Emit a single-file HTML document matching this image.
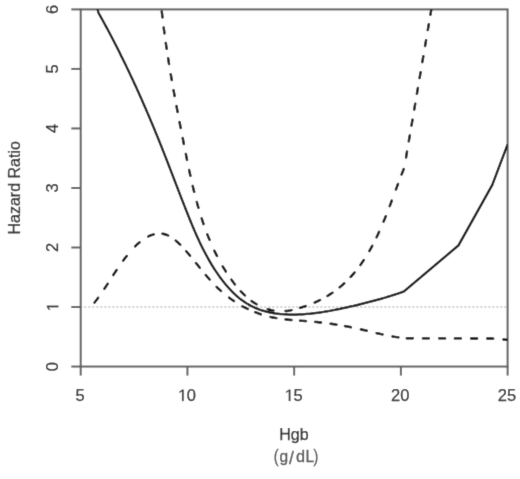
<!DOCTYPE html>
<html><head><meta charset="utf-8"><style>
html,body{margin:0;padding:0;background:#fff;}
body{width:520px;height:479px;overflow:hidden;}
svg{display:block;}
text{font-family:"Liberation Sans",sans-serif;}
</style></head><body>
<svg width="520" height="479" viewBox="0 0 520 479">
<defs><clipPath id="c"><rect x="80.7" y="9.4" width="426.90000000000003" height="357.15000000000003"/></clipPath><filter id="bl" x="0" y="0" width="520" height="479" filterUnits="userSpaceOnUse"><feConvolveMatrix order="3" kernelMatrix="0.01134 0.08382 0.01134 0.08382 0.61935 0.08382 0.01134 0.08382 0.01134" divisor="1" edgeMode="duplicate" preserveAlpha="false"/></filter></defs>
<g filter="url(#bl)">
<rect width="520" height="479" fill="#fff"/>
<line x1="80.70" y1="307.02" x2="507.60" y2="307.02" stroke="#c4c4c4" stroke-width="1.6" stroke-dasharray="2 2" stroke-dashoffset="0.4"/>
<g stroke="#606060" stroke-width="2" fill="none">
<rect x="80.70" y="9.40" width="426.90" height="357.15"/>
<line x1="80.70" y1="366.55" x2="80.70" y2="375.6"/><line x1="187.43" y1="366.55" x2="187.43" y2="375.6"/><line x1="294.15" y1="366.55" x2="294.15" y2="375.6"/><line x1="400.88" y1="366.55" x2="400.88" y2="375.6"/><line x1="507.60" y1="366.55" x2="507.60" y2="375.6"/><line x1="71.3" y1="366.55" x2="80.70" y2="366.55"/><line x1="71.3" y1="307.02" x2="80.70" y2="307.02"/><line x1="71.3" y1="247.50" x2="80.70" y2="247.50"/><line x1="71.3" y1="187.97" x2="80.70" y2="187.97"/><line x1="71.3" y1="128.45" x2="80.70" y2="128.45"/><line x1="71.3" y1="68.92" x2="80.70" y2="68.92"/><line x1="71.3" y1="9.40" x2="80.70" y2="9.40"/>
</g>
<g clip-path="url(#c)" fill="none" stroke="#000" stroke-width="2.4" stroke-linejoin="round">
<path d="M89.50,-10.00 L97.80,10.00 L98.31,12.54 L99.26,14.23 L100.20,15.92 L101.15,17.61 L102.09,19.31 L103.03,21.01 L103.96,22.72 L104.90,24.43 L105.83,26.14 L106.76,27.86 L107.68,29.59 L108.60,31.32 L109.52,33.05 L110.44,34.78 L111.36,36.52 L112.27,38.27 L113.18,40.02 L114.08,41.77 L114.98,43.52 L115.89,45.28 L116.78,47.04 L117.68,48.81 L118.57,50.58 L119.46,52.35 L120.35,54.13 L121.23,55.90 L122.11,57.69 L122.99,59.47 L123.86,61.26 L124.74,63.05 L125.61,64.84 L126.47,66.64 L127.34,68.44 L128.20,70.24 L129.06,72.05 L129.91,73.86 L130.77,75.67 L131.62,77.48 L132.46,79.30 L133.31,81.11 L134.15,82.93 L134.99,84.75 L135.83,86.58 L136.66,88.41 L137.49,90.23 L138.32,92.06 L139.14,93.90 L139.96,95.73 L140.78,97.57 L141.60,99.41 L142.41,101.25 L143.22,103.09 L144.03,104.93 L144.84,106.77 L145.64,108.62 L146.44,110.47 L147.23,112.32 L148.03,114.16 L148.82,116.02 L149.61,117.87 L150.39,119.72 L151.17,121.58 L151.95,123.43 L152.73,125.29 L153.50,127.14 L154.27,129.00 L155.04,130.86 L155.80,132.72 L156.57,134.58 L157.32,136.44 L158.08,138.30 L158.83,140.16 L159.58,142.02 L160.33,143.88 L161.08,145.75 L161.82,147.61 L162.56,149.47 L163.29,151.33 L164.03,153.20 L164.76,155.06 L165.49,156.92 L166.21,158.78 L166.94,160.64 L167.66,162.50 L168.38,164.37 L169.10,166.23 L169.82,168.09 L170.54,169.95 L171.26,171.80 L171.97,173.66 L172.69,175.52 L173.40,177.38 L174.11,179.23 L174.83,181.09 L175.54,182.94 L176.25,184.79 L176.96,186.64 L177.68,188.50 L178.39,190.34 L179.10,192.19 L179.81,194.04 L180.53,195.88 L181.24,197.73 L181.96,199.57 L182.67,201.41 L183.39,203.25 L184.11,205.09 L184.83,206.92 L185.55,208.75 L186.28,210.59 L187.00,212.42 L187.73,214.24 L188.46,216.07 L189.19,217.89 L189.93,219.71 L190.67,221.53 L191.41,223.35 L192.17,225.16 L192.93,226.97 L193.69,228.78 L194.46,230.59 L195.25,232.39 L196.04,234.19 L196.84,235.99 L197.65,237.79 L198.47,239.58 L199.30,241.37 L200.15,243.15 L201.01,244.94 L201.88,246.72 L202.76,248.50 L203.66,250.27 L204.58,252.04 L205.51,253.81 L206.46,255.57 L207.43,257.33 L208.41,259.09 L209.42,260.84 L210.44,262.59 L211.48,264.34 L212.55,266.08 L213.63,267.81 L214.74,269.54 L215.86,271.26 L217.01,272.97 L218.18,274.66 L219.37,276.34 L220.58,278.01 L221.81,279.65 L223.07,281.28 L224.35,282.88 L225.65,284.46 L226.97,286.02 L228.31,287.55 L229.68,289.05 L231.07,290.51 L232.48,291.95 L233.91,293.35 L235.37,294.71 L236.85,296.04 L238.35,297.33 L239.88,298.57 L241.43,299.77 L243.00,300.93 L244.60,302.04 L246.22,303.09 L247.87,304.10 L249.54,305.06 L251.23,305.96 L252.95,306.82 L254.69,307.62 L256.45,308.37 L258.23,309.07 L260.03,309.72 L261.85,310.33 L263.69,310.89 L265.54,311.41 L267.41,311.88 L269.30,312.31 L271.20,312.70 L273.11,313.05 L275.04,313.37 L276.98,313.64 L278.92,313.88 L280.88,314.08 L282.85,314.25 L284.83,314.38 L286.81,314.48 L288.81,314.55 L290.80,314.59 L292.81,314.61 L294.81,314.59 L296.82,314.55 L298.83,314.48 L300.85,314.39 L302.86,314.27 L304.88,314.14 L306.89,313.98 L308.91,313.79 L310.92,313.59 L312.94,313.37 L314.95,313.13 L316.96,312.88 L318.97,312.60 L320.98,312.31 L322.99,312.00 L325.00,311.68 L327.01,311.35 L329.01,311.00 L331.01,310.63 L333.01,310.26 L335.01,309.87 L337.01,309.47 L339.00,309.06 L340.99,308.65 L342.97,308.22 L344.96,307.79 L346.94,307.35 L348.91,306.90 L350.88,306.45 L352.85,305.99 L354.82,305.53 L356.78,305.06 L358.73,304.59 L360.68,304.12 L362.63,303.64 L364.57,303.16 L366.51,302.67 L368.44,302.18 L370.36,301.68 L372.28,301.18 L374.20,300.67 L376.10,300.16 L378.01,299.63 L379.90,299.11 L381.79,298.57 L383.67,298.02 L385.55,297.47 L387.42,296.91 L389.28,296.34 L391.13,295.77 L392.98,295.18 L394.82,294.58 L396.65,293.98 L398.47,293.36 L400.28,292.74 L402.09,292.10 L404.30,291.20 L458.50,245.40 L492.30,184.90 L507.60,144.50" stroke-width="2.25"/>
<path d="M160.01,-4.48 L160.57,1.49M161.78,11.50 L161.97,13.15 L162.20,15.17 L162.43,17.19 L162.46,17.46M163.70,27.48 L163.92,29.24 L164.19,31.24 L164.45,33.24 L164.48,33.43M165.79,42.85 L165.84,43.17 L166.12,45.15 L166.42,47.13 L166.66,48.78M168.11,58.18 L168.23,58.95 L168.54,60.91 L168.86,62.87 L169.06,64.10M170.73,74.17 L170.81,74.61 L171.14,76.56 L171.48,78.51 L171.75,80.08M173.54,90.14 L173.55,90.19 L173.90,92.14 L174.25,94.08 L174.61,96.03 L174.61,96.04M176.48,106.07 L176.79,107.69 L177.16,109.63 L177.53,111.58 L177.60,111.97M179.55,122.09 L179.78,123.25 L180.16,125.19 L180.54,127.14 L180.70,127.98M182.69,138.09 L182.84,138.85 L183.23,140.81 L183.61,142.77 L183.85,143.97M185.85,154.03 L185.96,154.54 L186.35,156.51 L186.75,158.48 L187.04,159.91M189.14,169.96 L189.20,170.28 L189.63,172.24 L190.05,174.21 L190.41,175.82M192.74,186.03 L193.19,187.92 L193.67,189.87 L194.15,191.82 L194.16,191.86M196.79,202.00 L197.19,203.45 L197.73,205.38 L198.28,207.30 L198.41,207.77M201.63,218.30 L201.77,218.75 L202.39,220.64 L203.02,222.53 L203.52,223.99M207.30,234.33 L207.79,235.58 L208.52,237.42 L209.27,239.25 L209.54,239.90M214.35,250.68 L214.93,251.88 L215.80,253.65 L216.68,255.41 L217.02,256.06M222.72,266.40 L223.38,267.52 L224.41,269.21 L225.46,270.89 L225.86,271.51M231.36,279.64 L232.18,280.77 L233.37,282.38 L234.58,283.96 L234.96,284.43M240.74,291.24 L241.04,291.57 L242.41,293.00 L243.81,294.40 L244.97,295.50M251.55,300.97 L252.90,301.93 L254.53,303.02 L256.21,304.05 L256.57,304.26M267.67,309.17 L268.82,309.52 L270.72,310.02 L272.64,310.44 L273.50,310.59M285.61,311.06 L286.34,310.99 L288.31,310.72 L290.28,310.37 L291.53,310.10M299.99,307.88 L300.06,307.86 L301.99,307.27 L303.92,306.65 L305.70,306.05M314.62,302.58 L315.27,302.30 L317.11,301.46 L318.94,300.58 L320.05,300.03M327.44,295.93 L327.81,295.71 L329.52,294.64 L331.21,293.54 L332.48,292.68M339.67,287.29 L340.81,286.35 L342.31,285.06 L343.78,283.74 L344.20,283.36M350.59,276.99 L350.76,276.81 L352.08,275.35 L353.38,273.88 L354.56,272.48M360.39,264.97 L360.66,264.61 L361.79,263.00 L362.91,261.37 L363.80,260.04M369.34,251.06 L370.19,249.57 L371.16,247.83 L372.11,246.07 L372.25,245.82M376.58,237.30 L376.65,237.15 L377.52,235.33 L378.37,233.51 L379.12,231.86M383.54,221.71 L384.02,220.57 L384.79,218.70 L385.55,216.82 L385.81,216.16M389.72,206.15 L389.95,205.54 L390.66,203.66 L391.37,201.78 L391.83,200.54M395.94,189.50 L396.24,188.68 L396.93,186.83 L397.61,184.98 L398.03,183.87M401.55,174.59 L401.76,174.04 L402.46,172.24 L403.17,170.46 L403.75,169.00M406.04,157.47 L407.05,151.56M408.80,141.31 L409.81,135.40M411.48,125.60 L412.49,119.68M414.22,109.59 L415.23,103.67M416.91,93.82 L417.92,87.90M419.60,78.05 L420.61,72.14M422.31,62.17 L423.32,56.26M425.07,46.03 L426.08,40.11M427.78,30.13 L428.79,24.22M430.41,14.74 L431.20,10.10 L431.42,8.82M433.12,-1.13 L434.14,-7.05M435.84,-17.00 L436.85,-22.92M438.56,-32.87 L439.57,-38.79M441.28,-48.74 L442.29,-54.65M444.00,-64.61 L445.01,-70.52M446.71,-80.48 L447.73,-86.39M449.43,-96.35 L450.44,-102.26M452.15,-112.22 L453.16,-118.13M454.87,-128.09 L455.88,-134.00M457.58,-143.95 L458.50,-149.30" stroke-linecap="round"/>
<path d="M94.52,302.64 L94.95,302.07 L96.22,300.39 L97.46,298.72 L98.11,297.83M104.40,288.76 L105.44,287.18 L106.51,285.55 L107.57,283.92 L107.69,283.74M113.32,275.01 L113.83,274.21 L114.89,272.60 L115.95,270.99 L116.61,269.99M123.14,260.66 L123.85,259.70 L125.08,258.09 L126.33,256.47 L126.79,255.90M135.14,246.37 L136.10,245.41 L137.64,243.97 L139.22,242.58 L139.55,242.30M148.18,236.54 L149.40,235.95 L151.21,235.21 L153.04,234.59 L153.77,234.40M162.47,233.75 L163.86,233.99 L165.57,234.47 L167.24,235.10 L168.17,235.53M175.79,240.62 L176.60,241.31 L178.07,242.64 L179.51,244.01 L180.20,244.70M186.19,251.18 L186.42,251.44 L187.75,253.00 L189.07,254.57 L190.06,255.76M196.00,263.04 L196.80,264.04 L198.07,265.62 L199.34,267.19 L199.77,267.71M205.75,274.95 L207.01,276.44 L208.31,277.94 L209.63,279.43 L209.68,279.49M216.68,286.92 L217.80,288.02 L219.23,289.38 L220.68,290.72 L221.04,291.04M229.10,297.64 L229.87,298.22 L231.47,299.38 L233.10,300.51 L234.00,301.11M242.48,306.25 L243.27,306.69 L245.02,307.61 L246.79,308.50 L247.82,309.00M255.14,312.19 L255.87,312.49 L257.73,313.18 L259.60,313.84 L260.78,314.24M270.48,316.94 L271.03,317.07 L272.97,317.48 L274.92,317.86 L276.37,318.11M285.48,319.41 L286.73,319.55 L288.71,319.76 L290.70,319.95 L291.45,320.02M300.03,320.70 L300.68,320.75 L302.68,320.90 L304.67,321.04 L306.02,321.14M315.02,321.87 L316.62,322.02 L318.60,322.23 L320.58,322.44 L320.99,322.49M330.56,323.70 L332.38,323.97 L334.33,324.26 L336.29,324.57 L336.49,324.60M344.99,326.08 L346.04,326.27 L347.99,326.64 L349.93,327.03 L350.88,327.22M360.85,329.38 L361.59,329.54 L363.53,329.99 L365.47,330.45 L366.70,330.74M376.63,333.10 L377.12,333.22 L379.07,333.67 L381.01,334.11 L382.48,334.43M392.48,336.45 L392.72,336.49 L394.68,336.83 L396.64,337.14 L398.41,337.40M406.80,338.30 L412.80,338.32M422.90,338.33 L428.90,338.35M439.10,338.36 L445.10,338.38M454.90,338.39 L458.50,338.40 L460.90,338.41M471.10,338.44 L477.10,338.46M487.20,338.48 L492.30,338.50 L493.20,338.58M503.42,339.52 L507.60,339.90" stroke-linecap="round"/>
</g>
<g font-size="16.5" fill="#262626" stroke="#262626" stroke-width="0.25"><text x="75.51" y="401">5</text><path d="M555,0 L555,1237 L237,1010 L237,1180 L570,1409 L736,1409 L736,0 Z" stroke-width="31.0" transform="translate(177.65,401.00) scale(0.008057,-0.008057)"/><text x="186.83" y="401">0</text><path d="M555,0 L555,1237 L237,1010 L237,1180 L570,1409 L736,1409 L736,0 Z" stroke-width="31.0" transform="translate(284.37,401.00) scale(0.008057,-0.008057)"/><text x="293.55" y="401">5</text><text x="391.10" y="401">2</text><text x="400.28" y="401">0</text><text x="497.82" y="401">2</text><text x="507.00" y="401">5</text><g transform="translate(58.3,366.55) rotate(-90)"><text x="-4.59" y="0">0</text></g><g transform="translate(58.3,307.02) rotate(-90)"><path d="M555,0 L555,1237 L237,1010 L237,1180 L570,1409 L736,1409 L736,0 Z" stroke-width="31.0" transform="translate(-4.59,0.00) scale(0.008057,-0.008057)"/></g><g transform="translate(58.3,247.50) rotate(-90)"><text x="-4.59" y="0">2</text></g><g transform="translate(58.3,187.97) rotate(-90)"><text x="-4.59" y="0">3</text></g><g transform="translate(58.3,128.45) rotate(-90)"><text x="-4.59" y="0">4</text></g><g transform="translate(58.3,68.92) rotate(-90)"><text x="-4.59" y="0">5</text></g><g transform="translate(58.3,9.40) rotate(-90)"><text x="-4.59" y="0">6</text></g></g>
<text transform="translate(19.8,187.8) rotate(-90)" font-size="16" fill="#262626" stroke="#262626" stroke-width="0.25" text-anchor="middle">Hazard Ratio</text>
<text x="293.9" y="439.5" font-size="16" fill="#262626" stroke="#262626" stroke-width="0.25" text-anchor="middle">Hgb</text>
<g fill="#505050" stroke="#505050" stroke-width="0.3" text-anchor="middle"><text transform="translate(276.1,462.3) scale(0.8,1)" font-size="18">(</text><text transform="translate(283.75,462.3) scale(0.97,1)" font-size="16">g</text><text transform="translate(291.5,463.6) scale(1.0,1)" font-size="17.5">/</text><text transform="translate(300.4,462.3) scale(0.97,1)" font-size="16.8">d</text><text transform="translate(309.75,462.3) scale(0.95,1)" font-size="16.2">L</text><text transform="translate(315.9,462.3) scale(0.8,1)" font-size="18">)</text></g>
</g>
</svg>
</body></html>
